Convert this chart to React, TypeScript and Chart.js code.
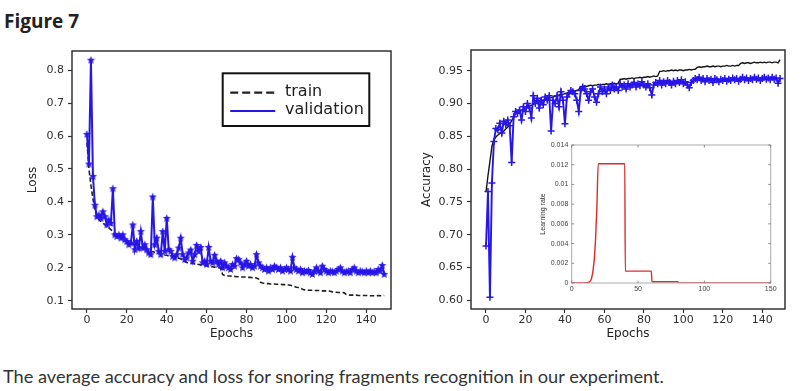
import React, { useEffect, useRef } from 'react';
import { Chart, registerables } from 'chart.js';
Chart.register(...registerables);

// ---------- data ----------
const epochTicks = [0, 20, 40, 60, 80, 100, 120, 140];
const lossTicks = [0.1, 0.2, 0.3, 0.4, 0.5, 0.6, 0.7, 0.8];
const accTicks = [0.6, 0.65, 0.7, 0.75, 0.8, 0.85, 0.9, 0.95];
const lrXTicks = [0, 50, 100, 150];
const lrYTicks = [0, 0.002, 0.004, 0.006, 0.008, 0.01, 0.012, 0.014];

const lossVal = [
  0.605, 0.515, 0.83, 0.477, 0.39, 0.355, 0.36, 0.35, 0.37, 0.355,
  0.33, 0.345, 0.335, 0.44, 0.30, 0.295, 0.30, 0.29, 0.30, 0.285,
  0.28, 0.27, 0.275, 0.33, 0.255, 0.28, 0.26, 0.31, 0.26, 0.27,
  0.255, 0.245, 0.24, 0.415, 0.27, 0.29, 0.25, 0.24, 0.31, 0.25,
  0.35, 0.255, 0.25, 0.235, 0.23, 0.24, 0.26, 0.29, 0.24, 0.225,
  0.23, 0.245, 0.254, 0.22, 0.24, 0.268, 0.25, 0.262, 0.215, 0.22,
  0.21, 0.262, 0.22, 0.215, 0.238, 0.22, 0.21, 0.22, 0.2, 0.215,
  0.205, 0.2, 0.195, 0.21, 0.205, 0.228, 0.225, 0.215, 0.2, 0.21,
  0.22, 0.205, 0.21, 0.2, 0.205, 0.24, 0.215, 0.205, 0.2, 0.195,
  0.2, 0.19, 0.2, 0.195, 0.205, 0.2, 0.195, 0.2, 0.19, 0.195,
  0.2, 0.195, 0.19, 0.232, 0.2, 0.195, 0.19, 0.195, 0.185, 0.19,
  0.188, 0.192, 0.185, 0.18, 0.19, 0.2, 0.19, 0.185, 0.205, 0.195,
  0.19, 0.185, 0.19, 0.188, 0.185, 0.19, 0.195, 0.2, 0.19, 0.185,
  0.188, 0.19, 0.185, 0.195, 0.2, 0.19, 0.185, 0.19, 0.188, 0.185,
  0.19, 0.185, 0.19, 0.185, 0.188, 0.185, 0.195, 0.19, 0.207, 0.18,
];

const lossTrain = [
  0.58, 0.5, 0.45, 0.41, 0.375, 0.356, 0.347, 0.341, 0.336, 0.331,
  0.326, 0.321, 0.316, 0.31, 0.301, 0.297, 0.294, 0.291, 0.288, 0.285,
  0.281, 0.278, 0.275, 0.272, 0.269, 0.267, 0.264, 0.262, 0.259, 0.257,
  0.255, 0.253, 0.251, 0.249, 0.247, 0.245, 0.244, 0.242, 0.241, 0.239,
  0.238, 0.236, 0.235, 0.233, 0.232, 0.23, 0.229, 0.227, 0.225, 0.219,
  0.216, 0.215, 0.214, 0.213, 0.212, 0.211, 0.21, 0.209, 0.208, 0.207,
  0.206, 0.205, 0.204, 0.203, 0.202, 0.201, 0.2, 0.199, 0.18, 0.177,
  0.176, 0.175, 0.175, 0.174, 0.174, 0.173, 0.173, 0.172, 0.172, 0.172,
  0.171, 0.171, 0.171, 0.17, 0.17, 0.169, 0.166, 0.156, 0.154, 0.153,
  0.152, 0.152, 0.151, 0.151, 0.151, 0.15, 0.15, 0.15, 0.149, 0.149,
  0.149, 0.148, 0.147, 0.145, 0.143, 0.141, 0.14, 0.139, 0.135, 0.133,
  0.133, 0.132, 0.132, 0.132, 0.131, 0.131, 0.131, 0.131, 0.13, 0.13,
  0.13, 0.13, 0.129, 0.127, 0.126, 0.126, 0.125, 0.125, 0.125, 0.124,
  0.119, 0.118, 0.117, 0.117, 0.117, 0.117, 0.116, 0.116, 0.116, 0.116,
  0.116, 0.116, 0.115, 0.115, 0.115, 0.115, 0.116, 0.115, 0.115, 0.116,
];

const accVal = [
  0.683, 0.766, 0.605, 0.779, 0.842, 0.862, 0.86, 0.87, 0.855, 0.873,
  0.868, 0.875, 0.866, 0.81, 0.88, 0.888, 0.885, 0.89, 0.875, 0.895,
  0.888, 0.9, 0.893, 0.878, 0.912, 0.9, 0.908, 0.893, 0.905, 0.898,
  0.91, 0.905, 0.912, 0.858, 0.905, 0.9, 0.912, 0.895, 0.918, 0.905,
  0.869, 0.91, 0.915, 0.92, 0.918, 0.915, 0.905, 0.888, 0.92, 0.925,
  0.922, 0.915, 0.905, 0.918, 0.922, 0.91, 0.902, 0.915, 0.925, 0.918,
  0.922, 0.915, 0.925, 0.92, 0.928, 0.922, 0.925, 0.92, 0.93, 0.925,
  0.928, 0.922, 0.93, 0.925, 0.928, 0.932, 0.925, 0.93, 0.927, 0.933,
  0.928, 0.925, 0.93, 0.924, 0.913, 0.928, 0.932, 0.93, 0.935, 0.928,
  0.933, 0.93, 0.935, 0.932, 0.928, 0.934, 0.93, 0.935, 0.932, 0.936,
  0.93, 0.933, 0.928, 0.924, 0.932, 0.935, 0.938, 0.936, 0.94, 0.935,
  0.938, 0.933, 0.938, 0.935, 0.937, 0.932, 0.938, 0.936, 0.933, 0.937,
  0.935, 0.938, 0.934, 0.937, 0.935, 0.939, 0.936, 0.938, 0.934, 0.937,
  0.94, 0.936, 0.939, 0.935, 0.938, 0.936, 0.94, 0.937, 0.939, 0.935,
  0.938, 0.94, 0.937, 0.939, 0.936, 0.94, 0.937, 0.939, 0.931, 0.938,
];

const accTrain = [
  0.765, 0.79, 0.812, 0.835, 0.845, 0.849, 0.852, 0.854, 0.856, 0.858,
  0.861, 0.864, 0.868, 0.874, 0.879, 0.884, 0.886, 0.888, 0.889, 0.891,
  0.893, 0.894, 0.896, 0.897, 0.899, 0.9, 0.901, 0.902, 0.904, 0.905,
  0.906, 0.907, 0.908, 0.909, 0.91, 0.911, 0.912, 0.913, 0.914, 0.914,
  0.915, 0.916, 0.917, 0.918, 0.918, 0.919, 0.92, 0.921, 0.926, 0.926,
  0.927, 0.926, 0.927, 0.928, 0.927, 0.928, 0.928, 0.929, 0.928, 0.929,
  0.929, 0.93, 0.929, 0.93, 0.93, 0.931, 0.93, 0.931, 0.937, 0.937,
  0.938, 0.937, 0.938, 0.938, 0.939, 0.938, 0.939, 0.939, 0.94, 0.939,
  0.94, 0.94, 0.941, 0.94, 0.941, 0.942, 0.941, 0.942, 0.949, 0.949,
  0.95, 0.949, 0.95, 0.95, 0.951, 0.95, 0.951, 0.95, 0.951, 0.951,
  0.95, 0.951, 0.951, 0.952, 0.951, 0.952, 0.952, 0.955, 0.956, 0.955,
  0.956, 0.956, 0.957, 0.956, 0.956, 0.957, 0.956, 0.957, 0.957, 0.956,
  0.957, 0.957, 0.958, 0.957, 0.957, 0.958, 0.957, 0.958, 0.958, 0.961,
  0.962, 0.961, 0.962, 0.962, 0.961, 0.962, 0.963, 0.962, 0.962, 0.963,
  0.962, 0.963, 0.962, 0.963, 0.963, 0.962, 0.963, 0.963, 0.962, 0.967,
];

const lrEpochs = [0, 8, 10, 12, 13, 14, 15, 16, 17, 18, 19, 20, 40, 40.4, 60, 60.5, 80, 80.5, 150];
const lrValues = [0, 0.00001, 0.00002, 0.00005, 0.0001, 0.0002, 0.0005, 0.0012, 0.0024, 0.0045, 0.0078, 0.0121, 0.0121, 0.0012, 0.0012, 0.00012, 0.00012, 0.00001, 0.00001];

// ---------- helpers ----------
const BLUE = '#2816e8';
const TXT = '#2e2e2e';

function makeStar(color: string, r: number) {
  const size = Math.ceil(r * 2 + 2);
  const c = document.createElement('canvas');
  c.width = size;
  c.height = size;
  const ctx = c.getContext('2d')!;
  ctx.fillStyle = color;
  ctx.beginPath();
  for (let i = 0; i < 10; i++) {
    const rad = i % 2 === 0 ? r : r * 0.45;
    const a = -Math.PI / 2 + (i * Math.PI) / 5;
    const px = size / 2 + rad * Math.cos(a);
    const py = size / 2 + rad * Math.sin(a);
    if (i === 0) ctx.moveTo(px, py);
    else ctx.lineTo(px, py);
  }
  ctx.closePath();
  ctx.fill();
  return c;
}

const framePlugin = (color: string, width: number, inner = 0) => ({
  id: 'frame',
  beforeDatasetsDraw(chart: any) {
    if (!inner) return;
    const { ctx, chartArea: a } = chart;
    ctx.save();
    ctx.fillStyle = '#fff';
    ctx.fillRect(a.left, a.top, a.right - a.left, a.bottom - a.top);
    ctx.restore();
  },
  afterDatasetsDraw(chart: any) {
    const { ctx, chartArea: a, scales } = chart;
    ctx.save();
    ctx.strokeStyle = color;
    ctx.lineWidth = width;
    ctx.strokeRect(a.left, a.top, a.right - a.left, a.bottom - a.top);
    if (inner) {
      ctx.lineWidth = 0.8;
      ctx.strokeStyle = '#777';
      ctx.beginPath();
      scales.x.ticks.forEach((t: any) => {
        const px = scales.x.getPixelForValue(t.value);
        ctx.moveTo(px, a.bottom);
        ctx.lineTo(px, a.bottom - inner);
        ctx.moveTo(px, a.top);
        ctx.lineTo(px, a.top + inner);
      });
      scales.y.ticks.forEach((t: any) => {
        const py = scales.y.getPixelForValue(t.value);
        ctx.moveTo(a.left, py);
        ctx.lineTo(a.left + inner, py);
        ctx.moveTo(a.right, py);
        ctx.lineTo(a.right - inner, py);
      });
      ctx.stroke();
    }
    ctx.restore();
  },
});

const legendPlugin = {
  id: 'lossLegend',
  afterDraw(chart: any) {
    const { ctx, chartArea: a } = chart;
    const w = 146.6;
    const h = 52.7;
    const x0 = a.right - 21.7 - w;
    const y0 = a.top + 22.3;
    ctx.save();
    ctx.fillStyle = '#fff';
    ctx.fillRect(x0, y0, w, h);
    ctx.strokeStyle = '#111';
    ctx.lineWidth = 2;
    ctx.strokeRect(x0, y0, w, h);
    ctx.strokeStyle = '#222';
    ctx.lineWidth = 2.2;
    ctx.setLineDash([8, 4]);
    ctx.beginPath();
    ctx.moveTo(x0 + 7.5, y0 + 19.4);
    ctx.lineTo(x0 + 52.5, y0 + 19.4);
    ctx.stroke();
    ctx.setLineDash([]);
    ctx.strokeStyle = BLUE;
    ctx.beginPath();
    ctx.moveTo(x0 + 7.5, y0 + 37.7);
    ctx.lineTo(x0 + 52.5, y0 + 37.7);
    ctx.stroke();
    ctx.fillStyle = '#222';
    ctx.font = '16px "DejaVu Sans"';
    ctx.textBaseline = 'middle';
    ctx.fillText('train', x0 + 62.3, y0 + 18.4);
    ctx.fillText('validation', x0 + 62.3, y0 + 36.7);
    ctx.restore();
  },
};

const tickFont = { family: 'DejaVu Sans', size: 11 };
const titleFont = { family: 'DejaVu Sans', size: 12 };

function xAxis(min: number, max: number) {
  return {
    type: 'linear',
    min,
    max,
    afterBuildTicks: (s: any) => {
      s.ticks = epochTicks.map((value) => ({ value }));
    },
    afterFit: (s: any) => {
      s.height = 51;
    },
    grid: { display: true, drawOnChartArea: false, drawTicks: true, tickLength: 4, tickColor: '#333', tickWidth: 1.2 },
    border: { display: false },
    ticks: { color: TXT, font: tickFont, padding: 1, maxRotation: 0, autoSkip: false, callback: (v: any) => String(v) },
    title: { display: true, text: 'Epochs', color: '#222', font: titleFont, padding: { top: 0, bottom: 18.8 } },
  };
}

function yAxis(min: number, max: number, ticks: number[], digits: number, width: number, title: string, titlePad: number) {
  return {
    type: 'linear',
    min,
    max,
    afterBuildTicks: (s: any) => {
      s.ticks = ticks.map((value) => ({ value }));
    },
    afterFit: (s: any) => {
      s.width = width;
    },
    grid: { display: true, drawOnChartArea: false, drawTicks: true, tickLength: 4, tickColor: '#333', tickWidth: 1.2 },
    border: { display: false },
    ticks: { color: TXT, font: tickFont, padding: 4, autoSkip: false, callback: (v: any) => Number(v).toFixed(digits) },
    title: { display: true, text: title, color: '#222', font: titleFont, padding: { top: titlePad, bottom: 0 } },
  };
}

const pts = (arr: number[]) => arr.map((y, x) => ({ x, y }));

export default function App() {
  const lossRef = useRef<HTMLCanvasElement>(null);
  const accRef = useRef<HTMLCanvasElement>(null);
  const lrRef = useRef<HTMLCanvasElement>(null);

  useEffect(() => {
    const star = makeStar(BLUE, 4.3);
    const common = {
      responsive: false,
      animation: false,
      devicePixelRatio: 1,
      plugins: { legend: { display: false }, tooltip: { enabled: false } },
    };

    const loss = new Chart(lossRef.current!, {
      type: 'line',
      data: {
        datasets: [
          {
            label: 'validation',
            data: pts(lossVal),
            borderColor: BLUE,
            backgroundColor: BLUE,
            borderWidth: 2,
            pointStyle: star as any,
            pointRadius: 4,
            tension: 0,
          },
          {
            label: 'train',
            data: pts(lossTrain),
            borderColor: '#1e1e1e',
            borderWidth: 1.6,
            borderDash: [4.5, 2.5],
            pointRadius: 0,
            tension: 0,
          },
        ],
      },
      options: {
        ...common,
        layout: { padding: { top: 21, right: 9, left: 0, bottom: 0 } },
        scales: {
          x: xAxis(-7.5, 152.4) as any,
          y: yAxis(0.075, 0.858, lossTicks, 1, 52, 'Loss', 5.8) as any,
        },
      } as any,
      plugins: [framePlugin('#333', 1.5), legendPlugin],
    });

    const acc = new Chart(accRef.current!, {
      type: 'line',
      data: {
        datasets: [
          {
            label: 'validation',
            data: pts(accVal),
            borderColor: BLUE,
            backgroundColor: BLUE,
            borderWidth: 1.9,
            pointStyle: 'cross',
            pointRadius: 3.5,
            pointBorderWidth: 1.5,
            tension: 0,
          },
          {
            label: 'train',
            data: pts(accTrain),
            borderColor: '#151515',
            borderWidth: 1.4,
            pointRadius: 0,
            tension: 0,
          },
        ],
      },
      options: {
        ...common,
        layout: { padding: { top: 20, right: 15, left: 0, bottom: 0 } },
        scales: {
          x: xAxis(-7.6, 151.5) as any,
          y: yAxis(0.587, 0.9815, accTicks, 2, 61, 'Accuracy', 9.8) as any,
        },
      } as any,
      plugins: [framePlugin('#333', 1.5)],
    });

    const lrFont = { family: 'Liberation Sans', size: 7 };
    const lr = new Chart(lrRef.current!, {
      type: 'line',
      data: {
        datasets: [
          {
            label: 'lr',
            data: lrEpochs.map((x, i) => ({ x, y: lrValues[i] })),
            borderColor: '#dd2b2b',
            borderWidth: 1.4,
            pointRadius: 0,
            cubicInterpolationMode: 'monotone',
          },
        ],
      },
      options: {
        ...common,
        layout: { padding: { top: 10, right: 9.3, left: 0, bottom: 0 } },
        scales: {
          x: {
            type: 'linear',
            min: 0,
            max: 150,
            afterBuildTicks: (s: any) => {
              s.ticks = lrXTicks.map((value) => ({ value }));
            },
            afterFit: (s: any) => {
              s.height = 17;
            },
            grid: { display: false, drawTicks: false },
            border: { display: false },
            ticks: { color: '#444', font: lrFont, padding: 2, maxRotation: 0, autoSkip: false, callback: (v: any) => String(v) },
          },
          y: {
            type: 'linear',
            min: 0,
            max: 0.014,
            afterBuildTicks: (s: any) => {
              s.ticks = lrYTicks.map((value) => ({ value }));
            },
            afterFit: (s: any) => {
              s.width = 41.7;
            },
            grid: { display: false, drawTicks: false },
            border: { display: false },
            ticks: { color: '#444', font: lrFont, padding: 3.4, autoSkip: false, callback: (v: any) => String(+Number(v).toFixed(3)) },
            title: { display: true, text: 'Learning rate', color: '#333', font: lrFont, padding: { top: 9, bottom: 0 } },
          },
        },
      } as any,
      plugins: [framePlugin('#aaa', 1, 2.5)],
    });

    return () => {
      loss.destroy();
      acc.destroy();
      lr.destroy();
    };
  }, []);

  return (
    <div style={{ position: 'absolute', left: 0, top: 0, width: 810, height: 391, background: '#fff', overflow: 'hidden' }}>
      <div style={{ position: 'absolute', left: 4, top: 12, font: 'bold 19px "Open Sans"', lineHeight: '19px', color: '#222', whiteSpace: 'nowrap' }}>
        Figure 7
      </div>
      <canvas ref={lossRef} width={380} height={330} style={{ position: 'absolute', left: 20, top: 30, width: 380, height: 330 }} />
      <canvas ref={accRef} width={390} height={330} style={{ position: 'absolute', left: 410, top: 30, width: 390, height: 330 }} />
      <canvas ref={lrRef} width={250} height={165} style={{ position: 'absolute', left: 530, top: 135, width: 250, height: 165 }} />
      <div style={{ position: 'absolute', left: 3, top: 368, font: '18.2px Lato', lineHeight: '16px', color: '#333', whiteSpace: 'nowrap' }}>
        The average accuracy and loss for snoring fragments recognition in our experiment.
      </div>
    </div>
  );
}
